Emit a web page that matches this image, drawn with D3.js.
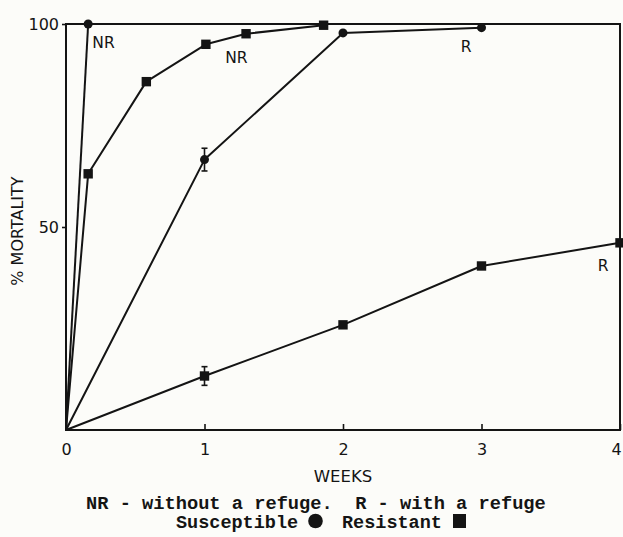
<!DOCTYPE html>
<html>
<head>
<meta charset="utf-8">
<script src="https://cdn.jsdelivr.net/npm/d3@7"></script>
<style>
  html, body { margin: 0; padding: 0; background: #fcfcf9; }
  svg { display: block; }
</style>
</head>
<body>
<svg id="chart" width="623" height="537"></svg>
<script>
// Mortality over time, susceptible vs resistant, with and without a refuge
const xTicks = [0, 1, 2, 3, 4];
const yTicks = [50, 100];

// Susceptible, no refuge
const susNRWeeks = [0, 0.16];
const susNRMort  = [0, 100];

// Resistant, no refuge
const resNRWeeks = [0, 0.16, 0.58, 1.01, 1.3, 1.86];
const resNRMort  = [0, 63.1, 85.8, 95.0, 97.6, 99.7];

// Susceptible, with refuge
const susRWeeks = [0, 1, 2, 3];
const susRMort  = [0, 66.6, 97.8, 99.1];
const susRErr   = [0, 2.8, 0, 0];

// Resistant, with refuge
const resRWeeks = [0, 1, 2, 3, 4];
const resRMort  = [0, 13.3, 25.9, 40.4, 46.1];
const resRErr   = [0, 2.3, 0, 0, 0];

// Curve annotations: text, week, percent (baseline)
const noteText  = ["NR", "NR", "R", "R"];
const noteWeek  = [0.19, 1.15, 2.85, 3.84];
const notePct   = [94.1, 90.4, 93.1, 39.2];

const svg = d3.select("#chart");
const ink = "#141414";
const sans = "'DejaVu Sans', sans-serif";
const mono = "'Liberation Mono', 'DejaVu Sans Mono', monospace";

const x = d3.scaleLinear().domain([0, 4]).range([66, 620]);
const y = d3.scaleLinear().domain([0, 100]).range([430, 24]);

// Frame
svg.append("rect")
  .attr("x", x(0)).attr("y", y(100))
  .attr("width", x(4) - x(0)).attr("height", y(0) - y(100))
  .attr("fill", "none").attr("stroke", ink).attr("stroke-width", 2);

// X axis: short inward ticks, labels below
const xAxis = d3.axisBottom(x).tickValues(xTicks).tickSizeInner(-6).tickSizeOuter(0).tickPadding(14)
  .tickFormat(d3.format("d"));
const gx = svg.append("g").attr("transform", `translate(0,${y(0)})`).call(xAxis);
gx.select(".domain").remove();
gx.selectAll(".tick line").attr("stroke", ink).attr("stroke-width", 1.6);
gx.selectAll(".tick text").attr("fill", ink).attr("font-family", sans).attr("font-size", 16);
// keep the last label inside the page
gx.selectAll(".tick text").filter(d => d === 4).attr("dx", -4);

// Y axis: short outward ticks, labels left
const yAxis = d3.axisLeft(y).tickValues(yTicks).tickSizeInner(4).tickSizeOuter(0).tickPadding(3)
  .tickFormat(d3.format("d"));
const gy = svg.append("g").attr("transform", `translate(${x(0)},0)`).call(yAxis);
gy.select(".domain").remove();
gy.selectAll(".tick line").attr("stroke", ink).attr("stroke-width", 1.6);
gy.selectAll(".tick text").attr("fill", ink).attr("font-family", sans).attr("font-size", 16);

// Axis titles
svg.append("text")
  .attr("x", 343).attr("y", 482)
  .attr("text-anchor", "middle")
  .attr("font-family", sans).attr("font-size", 16.5).attr("fill", ink)
  .text("WEEKS");

svg.append("text")
  .attr("transform", `translate(23,${y(49)}) rotate(-90)`)
  .attr("text-anchor", "middle")
  .attr("font-family", sans).attr("font-size", 16).attr("fill", ink)
  .text("% MORTALITY");

// Series
const series = [
  { wk: susNRWeeks, pct: susNRMort, err: null, shape: "circle" },
  { wk: resNRWeeks, pct: resNRMort, err: null, shape: "square" },
  { wk: susRWeeks,  pct: susRMort,  err: susRErr, shape: "circle" },
  { wk: resRWeeks,  pct: resRMort,  err: resRErr, shape: "square" }
];

const line = d3.line().x(d => x(d.w)).y(d => y(d.p));

series.forEach(s => {
  const pts = s.wk.map((w, i) => ({ w, p: s.pct[i], e: s.err ? s.err[i] : 0 }));
  svg.append("path")
    .datum(pts)
    .attr("d", line)
    .attr("fill", "none").attr("stroke", ink).attr("stroke-width", 2)
    .attr("stroke-linejoin", "round");

  // error bars with short caps
  pts.filter(d => d.e > 0).forEach(d => {
    const g = svg.append("g").attr("stroke", ink).attr("stroke-width", 1.6);
    g.append("line").attr("x1", x(d.w)).attr("x2", x(d.w)).attr("y1", y(d.p + d.e)).attr("y2", y(d.p - d.e));
    g.append("line").attr("x1", x(d.w) - 3).attr("x2", x(d.w) + 3).attr("y1", y(d.p + d.e)).attr("y2", y(d.p + d.e));
    g.append("line").attr("x1", x(d.w) - 3).attr("x2", x(d.w) + 3).attr("y1", y(d.p - d.e)).attr("y2", y(d.p - d.e));
  });

  const markers = pts.filter(d => d.w > 0);
  if (s.shape === "circle") {
    svg.selectAll(null).data(markers).enter().append("circle")
      .attr("cx", d => x(d.w)).attr("cy", d => y(d.p)).attr("r", 4.5)
      .attr("fill", ink);
  } else {
    svg.selectAll(null).data(markers).enter().append("rect")
      .attr("x", d => x(d.w) - 4.7).attr("y", d => y(d.p) - 4.7)
      .attr("width", 9.4).attr("height", 9.4)
      .attr("fill", ink);
  }
});

// Curve labels
noteText.forEach((t, i) => {
  svg.append("text")
    .attr("x", x(noteWeek[i])).attr("y", y(notePct[i]))
    .attr("font-family", sans).attr("font-size", 15.5).attr("fill", ink)
    .text(t);
});

// Key below the chart
svg.append("text")
  .attr("x", 86).attr("y", 509)
  .style("white-space", "pre")
  .attr("font-family", mono).attr("font-weight", "bold").attr("font-size", 18.7).attr("fill", ink)
  .text("NR - without a refuge.  R - with a refuge");

svg.append("text")
  .attr("x", 176).attr("y", 528)
  .attr("font-family", mono).attr("font-weight", "bold").attr("font-size", 18.5).attr("fill", ink)
  .text("Susceptible");
svg.append("circle").attr("cx", 315.5).attr("cy", 521).attr("r", 7.3).attr("fill", ink);
svg.append("text")
  .attr("x", 342).attr("y", 528)
  .attr("font-family", mono).attr("font-weight", "bold").attr("font-size", 18.5).attr("fill", ink)
  .text("Resistant");
svg.append("rect").attr("x", 453).attr("y", 514).attr("width", 13).attr("height", 14).attr("fill", ink);
</script>
</body>
</html>
